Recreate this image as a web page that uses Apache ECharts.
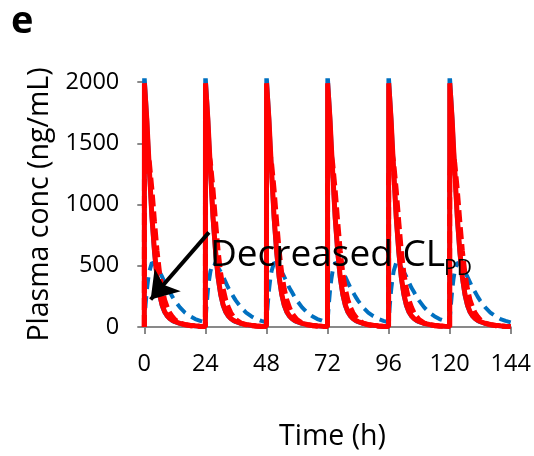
<!DOCTYPE html>
<html>
<head>
<meta charset="utf-8">
<script src="https://cdn.jsdelivr.net/npm/echarts@6/dist/echarts.min.js"></script>
<style>html,body{margin:0;padding:0;background:#fff}#c{width:534px;height:456px}</style>
</head>
<body>
<div id="c"></div>
<script>
// Dosing times (h) and hours after each dose at which the profile is read
const doseTimes = [0, 24, 48, 72, 96, 120];
const cycleHours = [0, 0.05, 0.5, 1, 1.5, 2, 3, 4, 5, 6, 7, 8, 9, 10, 11, 12, 14, 16, 18, 20, 22, 24];
// Concentration (ng/mL) read per cycle; first value = pre-dose trough
const blueSolid  = [5, 2030, 1880, 1700, 1480, 1270, 880, 600, 395, 260, 172, 120, 88, 67, 52, 42, 28, 19, 13, 9, 6, 5];
const blueDashed = [38, 45, 180, 300, 390, 455, 525, 515, 485, 450, 410, 365, 320, 285, 248, 215, 160, 118, 88, 65, 50, 38];
const redDashed  = [5, 1200, 1400, 1440, 1400, 1340, 1120, 860, 620, 440, 310, 220, 160, 115, 85, 60, 32, 18, 11, 7, 5, 4];
const redSolid   = [5, 1990, 1850, 1690, 1480, 1280, 900, 620, 410, 270, 180, 125, 92, 70, 55, 45, 30, 20, 14, 10, 7, 5];
const xTicks = [0, 24, 48, 72, 96, 120, 144];
const yTicks = [0, 500, 1000, 1500, 2000];

function build(profile) {
  const out = [];
  doseTimes.forEach((d, k) => {
    cycleHours.forEach((h, i) => {
      const v = (k === 0 && i === 0) ? 0 : profile[i];
      out.push([d + h, v]);
    });
  });
  return out;
}

const FONT = 'Open Sans';
const chart = echarts.init(document.getElementById('c'), null, {renderer: 'canvas'});
const lineBase = {type: 'line', showSymbol: false, symbol: 'none', clip: false, smooth: false, animation: false};
chart.setOption({
  animation: false,
  grid: {left: 144.3, right: 23.3, top: 82, bottom: 128, containLabel: false},
  xAxis: {
    type: 'value', min: xTicks[0], max: xTicks[xTicks.length - 1], interval: 24,
    name: 'Time (h)', nameLocation: 'middle', nameGap: 95,
    nameTextStyle: {fontFamily: FONT, fontSize: 28.5, color: '#000', padding: [0, 0, 0, 10]},
    axisLine: {show: true, lineStyle: {color: '#898989', width: 2}},
    axisTick: {show: true, inside: false, length: 7, lineStyle: {color: '#898989', width: 2}},
    axisLabel: {fontFamily: FONT, fontSize: 23.5, color: '#000', margin: 25, formatter: v => String(v)},
    splitLine: {show: false}
  },
  yAxis: {
    type: 'value', min: yTicks[0], max: yTicks[yTicks.length - 1], interval: 500,
    name: 'Plasma conc (ng/mL)', nameLocation: 'middle', nameGap: 89,
    nameTextStyle: {fontFamily: FONT, fontSize: 28.5, color: '#000', padding: [0, 0, 0, 0]},
    axisLine: {show: true, lineStyle: {color: '#898989', width: 2}},
    axisTick: {show: true, inside: false, length: 7, lineStyle: {color: '#898989', width: 2}},
    axisLabel: {fontFamily: FONT, fontSize: 23.5, color: '#000', margin: 25, formatter: v => String(v)},
    splitLine: {show: false}
  },
  series: [
    Object.assign({}, lineBase, {name: 'blueSolid', data: build(blueSolid), lineStyle: {color: '#0070C0', width: 4.5}}),
    Object.assign({}, lineBase, {name: 'blueDashed', data: build(blueDashed), lineStyle: {color: '#0070C0', width: 4, type: [12, 7]}}),
    Object.assign({}, lineBase, {name: 'redDashed', data: build(redDashed), lineStyle: {color: '#FF0000', width: 5, type: [12, 5]}}),
    Object.assign({}, lineBase, {name: 'redSolid', data: build(redSolid), lineStyle: {color: '#FF0000', width: 5},
      markLine: {
        silent: true, animation: false, symbol: ['none', 'arrow'], symbolSize: 26,
        label: {show: false},
        lineStyle: {color: '#000', width: 4, type: 'solid'},
        data: [[{coord: [25.4, 772]}, {coord: [2.5, 225]}]]
      }
    })
  ],
  graphic: [
    {type: 'text', left: 11, top: 3, style: {text: 'e', fontFamily: FONT, fontWeight: 'bold', fontSize: 38, fill: '#000'}},
    {type: 'text', x: 210, y: 255, style: {text: 'Decreased CL', fontFamily: FONT, fontSize: 37, fill: '#000', verticalAlign: 'middle', align: 'left'}, z: 100},
    {type: 'text', x: 444, y: 269, style: {text: 'PD', fontFamily: FONT, fontSize: 21, fill: '#000', verticalAlign: 'middle', align: 'left'}, z: 100}
  ]
});
</script>
</body>
</html>
